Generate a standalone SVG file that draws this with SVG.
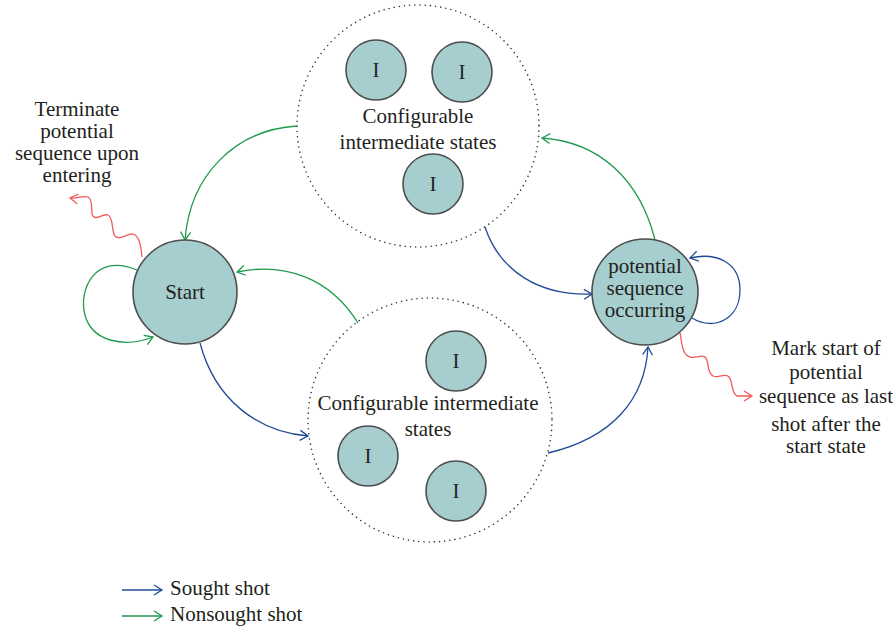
<svg xmlns="http://www.w3.org/2000/svg" width="893" height="629" viewBox="0 0 893 629">
<style>
text{font-size:21px;fill:#231f20;text-anchor:middle}
.st{fill:#a6cece;stroke:#4d4d4d;stroke-width:1.6}
.grp{fill:none;stroke:#333;stroke-width:1.6;stroke-linecap:round;stroke-dasharray:0 5.2}
.b{fill:none;stroke:#1f4b96;stroke-width:1.3}
.g{fill:none;stroke:#1e9a4e;stroke-width:1.3}
.r{fill:none;stroke:#f05a5a;stroke-width:1.3}
</style>
<defs>
<marker id="ab" markerWidth="12" markerHeight="12" refX="10" refY="6" orient="auto" markerUnits="userSpaceOnUse"><path d="M2,1 L10,6 L2,11" fill="none" stroke="#1f4b96" stroke-width="1.3"/></marker>
<marker id="ag" markerWidth="12" markerHeight="12" refX="10" refY="6" orient="auto" markerUnits="userSpaceOnUse"><path d="M2,1 L10,6 L2,11" fill="none" stroke="#1e9a4e" stroke-width="1.3"/></marker>
<marker id="ar" markerWidth="12" markerHeight="12" refX="10" refY="6" orient="auto" markerUnits="userSpaceOnUse"><path d="M2,1 L10,6 L2,11" fill="none" stroke="#f05a5a" stroke-width="1.3"/></marker>
</defs>
<rect width="893" height="629" fill="#fff"/>

<g id="connectors">
<path class="g" d="M297,126 C235,130 190,175 185,240" marker-end="url(#ag)"/>
<path class="g" d="M358,323 C330,278 285,262 237,272" marker-end="url(#ag)"/>
<path class="g" d="M137,270 C95,252 78,290 85,315 C92,342 125,348 153,337" marker-end="url(#ag)"/>
<path class="b" d="M200,343 C215,400 258,432 308,436" marker-end="url(#ab)"/>
<path class="b" d="M485,227 C500,272 540,296 592,294" marker-end="url(#ab)"/>
<path class="b" d="M548,453 C612,438 645,400 648,347" marker-end="url(#ab)"/>
<path class="g" d="M655,240 C640,180 600,142 542,138" marker-end="url(#ag)"/>
<path class="b" d="M692,318 C715,332 740,318 740,290 C740,262 716,252 690,258" marker-end="url(#ab)"/>
<path class="r" d="M142,257 C141,248 140,236 133,234 C127,233 120,241 115,236 C111,231 114,218 108,215 C102,213 97,221 93,216 C90,212 94,200 88,197 C84,195 78,199 70,198" marker-end="url(#ar)"/>
<path class="r" d="M680,333 C682,343 682,355 690,357 C697,359 702,353 706,358 C709,363 707,373 713,376 C719,379 725,372 729,377 C733,382 731,393 737,396 L752,396" marker-end="url(#ar)"/>
</g>

<g font-family="'Liberation Serif','DejaVu Serif','Times New Roman',serif">
<g id="top-group">
<circle class="grp" cx="418" cy="126" r="121"/>
<text x="418" y="123">Configurable</text>
<text x="418" y="149">intermediate states</text>
</g>
<g id="top-i1"><circle class="st" cx="376" cy="70" r="30"/><text x="376" y="77">I</text></g>
<g id="top-i2"><circle class="st" cx="462" cy="72" r="30"/><text x="462" y="79">I</text></g>
<g id="top-i3"><circle class="st" cx="433" cy="184" r="30"/><text x="433" y="191">I</text></g>

<g id="bottom-group">
<circle class="grp" cx="430" cy="420" r="122"/>
<text x="428" y="410">Configurable intermediate</text>
<text x="428" y="436">states</text>
</g>
<g id="bot-i1"><circle class="st" cx="456" cy="361" r="30"/><text x="456" y="368">I</text></g>
<g id="bot-i2"><circle class="st" cx="368" cy="456" r="30"/><text x="368" y="463">I</text></g>
<g id="bot-i3"><circle class="st" cx="456" cy="491" r="30"/><text x="456" y="498">I</text></g>

<g id="start"><circle class="st" cx="185" cy="292" r="52"/><text x="185" y="299">Start</text></g>
<g id="potential"><circle class="st" cx="645" cy="292" r="53"/>
<text x="645" y="273">potential</text><text x="645" y="295">sequence</text><text x="645" y="317">occurring</text></g>

<g id="terminate-note">
<text x="77" y="116">Terminate</text><text x="77" y="138">potential</text><text x="77" y="160">sequence upon</text><text x="77" y="182">entering</text>
</g>
<g id="mark-note">
<text x="826" y="355">Mark start of</text><text x="826" y="379">potential</text><text x="826" y="403">sequence as last</text><text x="826" y="431">shot after the</text><text x="826" y="453">start state</text>
</g>

<g id="legend">
<path class="b" d="M122,590 L162,590" marker-end="url(#ab)"/>
<path class="g" d="M122,616 L162,616" marker-end="url(#ag)"/>
<text x="170" y="595" style="text-anchor:start">Sought shot</text>
<text x="170" y="621" style="text-anchor:start">Nonsought shot</text>
</g>
</g>
</svg>
